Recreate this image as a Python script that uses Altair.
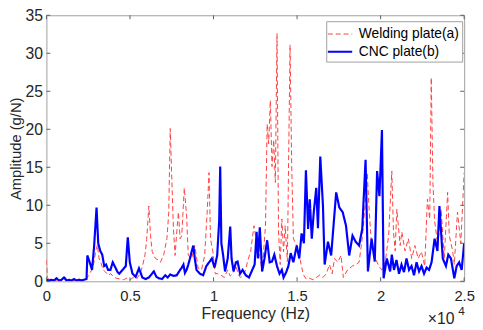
import altair as alt
import pandas as pd

series_names = ["Welding plate(a)", "CNC plate(b)"]
x_ticks = [0, 5000, 10000, 15000, 20000, 25000]
y_ticks = [0, 5, 10, 15, 20, 25, 30, 35]

welding_freq = [0, 60, 150, 300, 450, 600, 750, 900, 1050, 1100, 1200, 1350, 1500, 1650, 1800, 1950,
                2100, 2250, 2400, 2550, 2700, 2850, 2950, 3050, 3150, 3250, 3400, 3550, 3700, 3850,
                4000, 4200, 4400, 4600, 4800, 5000, 5200, 5400, 5600, 5750, 5900, 6000, 6130, 6230,
                6330, 6520, 6680, 6820, 7020, 7210, 7320, 7410, 7510, 7600, 7700, 7800, 7900, 8000,
                8100, 8250, 8390, 8490, 8690, 8880, 9080, 9280, 9470, 9630, 9730, 9820, 9960, 10100,
                10260, 10450, 10650, 10850, 11000, 11150, 11340, 11500, 11630, 11800, 11930, 12030,
                12220, 12420, 12550, 12710, 12910, 13110, 13210, 13300, 13400, 13500, 13600, 13700,
                13800, 13890, 13990, 14090, 14190, 14290, 14420, 14580, 14680, 14780, 14980, 15170,
                15370, 15550, 15750, 15950, 16150, 16350, 16550, 16750, 16940, 17100, 17240, 17430,
                17630, 17770, 18020, 18310, 18510, 18710, 18900, 19100, 19200, 19300, 19400, 19500,
                19690, 19890, 20080, 20280, 20480, 20670, 20770, 20870, 20970, 21170, 21270, 21460,
                21660, 21860, 22050, 22250, 22440, 22640, 22800, 22940, 23030, 23130, 23230, 23420,
                23620, 23810, 24010, 24110, 24310, 24410, 24600, 24800, 25000]
welding_amp = [2.8, 0.5, 0.2, 0.1, 0.2, 0.1, 0.3, 0.1, 0.4, 0.6, 0.2, 0.1, 0.2, 0.1, 0.2, 0.3,
               0.1, 0.2, 0.4, 0.8, 1.5, 2.5, 4.0, 4.8, 3.0, 2.5, 1.5, 1.2, 0.8, 1.0,
               0.6, 0.4, 0.3, 0.2, 0.4, 0.2, 0.5, 0.3, 1.0, 2.0, 3.5, 5.5, 9.9, 6.0,
               3.9, 3.0, 2.8, 2.5, 3.5, 5.6, 9.0, 20.1, 13.0, 7.0, 3.4, 6.5, 9.1, 5.6,
               6.0, 12.3, 8.6, 3.4, 3.0, 4.7, 1.7, 1.5, 3.4, 9.5, 14.3, 5.6, 3.9, 1.0,
               1.0, 0.8, 0.5, 1.5, 0.7, 1.0, 2.0, 0.8, 0.5, 1.0, 1.5, 2.6,
               3.9, 7.3, 5.6, 4.3, 1.3, 7.3, 20.7, 18.1, 23.8, 15.1, 18.6, 13.0,
               32.6, 6.5, 2.2, 8.2, 3.9, 7.3, 2.6, 31.1, 15.1, 5.6, 4.7, 3.0,
               0.9, 0.3, 0.4, 0.2, 0.5, 0.8, 0.5, 1.0, 2.2, 1.0, 3.0, 2.5,
               3.4, 0.5, 1.5, 2.0, 2.2, 2.5, 5.6, 10.8, 14.3, 9.9, 6.5, 4.0,
               3.0, 2.0, 1.5, 2.6, 6.0, 14.5, 6.5, 4.0, 9.5, 4.7, 6.5, 4.0,
               5.6, 3.0, 4.7, 3.0, 3.9, 2.0, 10.8, 8.2, 26.8, 13.0, 8.0, 4.7,
               9.5, 3.0, 11.7, 6.0, 4.0, 2.2, 9.1, 5.0, 14.3]

cnc_freq = [0, 150, 300, 450, 600, 750, 900, 1050, 1200, 1350, 1500, 1650, 1800, 1950, 2100, 2250,
            2400, 2450, 2590, 2730, 2850, 3000, 3100, 3220, 3340, 3460, 3570, 3690, 3830, 3970,
            4130, 4260, 4360, 4560, 4750, 4870, 4990, 5150, 5340, 5540, 5740, 5930, 6130, 6280,
            6430, 6580, 6720, 6920, 7110, 7260, 7410, 7610, 7800, 8000, 8100, 8200, 8290, 8390,
            8490, 8590, 8690, 8790, 8880, 8980, 9180, 9380, 9570, 9770, 9900, 10060, 10220, 10340,
            10400, 10470, 10570, 10690, 10850, 11000, 11080, 11200, 11340, 11440, 11590, 11740,
            11930, 12120, 12320, 12460, 12580, 12660, 12770, 12910, 13050, 13210, 13360, 13500,
            13640, 13800, 13950, 14090, 14190, 14350, 14480, 14620, 14780, 14980, 15130, 15270,
            15410, 15530, 15660, 15760, 15880, 16000, 16150, 16250, 16390, 16550, 16650, 16850,
            17040, 17340, 17530, 17730, 17930, 18120, 18320, 18510, 18710, 18900, 19100, 19240,
            19460, 19650, 19790, 19930, 20080, 20180, 20370, 20570, 20670, 20800, 20950, 21100,
            21250, 21400, 21550, 21700, 21850, 22000, 22150, 22300, 22450, 22600, 22750, 22900,
            23050, 23230, 23400, 23520, 23720, 23910, 24050, 24210, 24410, 24550, 24700, 24850, 25000]
cnc_amp = [0.2, 0.1, 0.2, 0.1, 0.4, 0.1, 0.2, 0.5, 0.1, 0.2, 0.1, 0.3, 0.1, 0.2, 0.1, 0.2,
           0.3, 3.4, 2.5, 1.5, 4.5, 9.7, 5.0, 4.0, 3.5, 2.0, 2.2, 1.5, 1.5, 2.5,
           1.8, 1.2, 1.0, 1.5, 2.0, 5.8, 2.5, 1.0, 0.6, 1.7, 0.5, 0.3, 0.5, 0.9,
           1.3, 0.6, 0.4, 0.3, 0.8, 0.5, 0.9, 0.7, 0.8, 1.5, 1.8, 2.2, 1.1, 1.5,
           2.2, 3.0, 3.9, 4.7, 3.0, 1.5, 1.0, 0.8, 2.0, 2.6, 3.0, 1.8, 3.4, 8.0,
           15.1, 5.0, 3.5, 1.3, 3.0, 7.2, 3.0, 1.3, 2.5, 2.6, 1.0, 1.5,
           0.8, 0.5, 1.5, 2.2, 6.5, 3.0, 7.1, 1.3, 3.0, 5.4, 2.5, 2.6,
           3.5, 2.0, 1.0, 1.5, 0.5, 1.2, 2.0, 3.7, 2.5, 4.7, 3.0, 6.3,
           5.0, 14.6, 6.9, 10.8, 5.6, 9.1, 12.3, 7.0, 16.4, 9.9, 2.2, 5.2,
           3.4, 11.7, 9.7, 9.1, 7.3, 3.4, 6.0, 5.2, 4.7, 6.9, 16.0, 1.3,
           5.6, 2.6, 14.5, 11.2, 19.9, 0.4, 3.0, 1.3, 3.5, 1.5, 2.8, 1.0,
           2.2, 1.2, 3.0, 1.5, 2.0, 0.8, 2.5, 1.3, 2.0, 1.0, 1.8, 1.5,
           2.5, 5.6, 4.0, 9.9, 3.0, 2.0, 3.5, 3.0, 0.4, 2.0, 2.5, 1.5, 5.0]

W, H = 424, 270
FONT = "Liberation Sans"
TXT = "#262626"

df = pd.concat([
    pd.DataFrame({"f": welding_freq, "a": welding_amp, "s": series_names[0],
                  "o": list(range(len(welding_freq)))}),
    pd.DataFrame({"f": cnc_freq, "a": cnc_amp, "s": series_names[1],
                  "o": list(range(len(cnc_freq)))}),
], ignore_index=True)

xs = alt.Scale(domain=[0, 25000], nice=False, zero=False)
ys = alt.Scale(domain=[0, 35], nice=False)

x_axis = alt.Axis(title="Frequency (Hz)", values=x_ticks, labelExpr="datum.value / 10000",
                  ticks=False, domain=False, grid=False, labelPadding=7, titlePadding=3,
                  labelFlush=False, labelFontSize=15, titleFontSize=16)
y_axis = alt.Axis(title="Amplitude (g/N)", values=y_ticks, ticks=False, domain=False,
                  grid=False, labelPadding=4, titlePadding=2, labelFlush=False,
                  labelFontSize=16, titleFontSize=15)

leg = alt.Legend(title=None, orient="none", legendX=284, legendY=6, fillColor="white",
                 strokeColor="#a0a0a0", padding=3, symbolType="M-1.3,0H1.3", symbolSize=361,
                 labelFontSize=14, labelFont=FONT, labelColor="#000000", rowPadding=0,
                 labelOffset=8)

lines = alt.Chart(df).mark_line(clip=True).encode(
    x=alt.X("f:Q", scale=xs, axis=x_axis, title="Frequency (Hz)"),
    y=alt.Y("a:Q", scale=ys, axis=y_axis, title="Amplitude (g/N)"),
    color=alt.Color("s:N", scale=alt.Scale(domain=series_names, range=["#ff4040", "#0000ff"]),
                    legend=leg),
    strokeDash=alt.StrokeDash("s:N", scale=alt.Scale(domain=series_names, range=[[5, 3], [1, 0]]),
                              legend=leg),
    strokeWidth=alt.StrokeWidth("s:N", scale=alt.Scale(domain=series_names, range=[1, 2.2]),
                                legend=leg),
    order="o:Q",
)

xt = pd.DataFrame({"f": x_ticks})
yt = pd.DataFrame({"a": y_ticks})
tick_color = "#606060"
bottom_ticks = alt.Chart(xt).mark_rule(color=tick_color, strokeWidth=1).encode(
    x=alt.X("f:Q", scale=xs, axis=x_axis, title="Frequency (Hz)"), y=alt.value(H), y2=alt.value(H - 4))
top_ticks = alt.Chart(xt).mark_rule(color=tick_color, strokeWidth=1).encode(
    x=alt.X("f:Q", scale=xs, axis=x_axis, title="Frequency (Hz)"), y=alt.value(0), y2=alt.value(4))
left_ticks = alt.Chart(yt).mark_rule(color=tick_color, strokeWidth=1).encode(
    y=alt.Y("a:Q", scale=ys, axis=y_axis, title="Amplitude (g/N)"), x=alt.value(0), x2=alt.value(4))
right_ticks = alt.Chart(yt).mark_rule(color=tick_color, strokeWidth=1).encode(
    y=alt.Y("a:Q", scale=ys, axis=y_axis, title="Amplitude (g/N)"), x=alt.value(W), x2=alt.value(W - 4))

exp_base = alt.Chart(pd.DataFrame({"t": ["×10"]})).mark_text(
    font=FONT, fontSize=16, color=TXT, align="left", baseline="alphabetic").encode(
    text="t:N", x=alt.value(387), y=alt.value(313))
exp_pow = alt.Chart(pd.DataFrame({"t": ["4"]})).mark_text(
    font=FONT, fontSize=12, color=TXT, align="left", baseline="alphabetic").encode(
    text="t:N", x=alt.value(418), y=alt.value(304))

chart = alt.layer(lines, bottom_ticks, top_ticks, left_ticks, right_ticks, exp_base, exp_pow).properties(
    width=W, height=H,
    autosize=alt.AutoSizeParams(type="none"),
    padding={"left": 39, "top": 5, "right": 11, "bottom": 44},
    background="white",
).configure_view(stroke="#a0a0a0", strokeWidth=1).configure_axis(
    labelFont=FONT, labelColor=TXT, titleFont=FONT,
    titleColor=TXT, titleFontWeight="normal")

chart.save("out.html", embed_options={"renderer": "svg", "actions": False})
